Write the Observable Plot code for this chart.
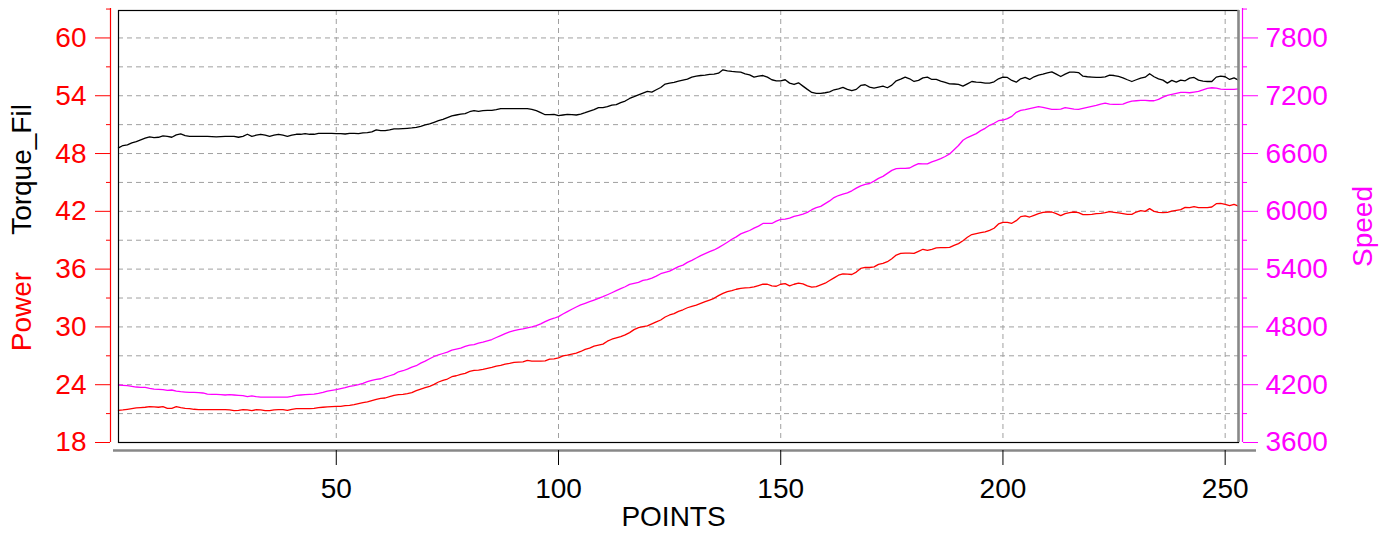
<!DOCTYPE html>
<html>
<head>
<meta charset="utf-8">
<script src="https://cdn.jsdelivr.net/npm/d3@7"></script>
<script src="https://cdn.jsdelivr.net/npm/@observablehq/plot@0.6"></script>
<style>
  html, body { margin: 0; padding: 0; background: #fff; }
  #chart svg { display: block; overflow: visible; }
</style>
</head>
<body>
<div id="chart"></div>
<script>
// ---- data ----
const torque = [
48.59,48.83,48.9,49.1,49.24,49.41,49.59,49.72,49.66,49.69,
49.83,49.79,49.69,49.93,50.03,49.86,49.79,49.79,49.79,49.79,
49.79,49.76,49.72,49.76,49.79,49.79,49.79,49.69,49.79,50.0,
49.79,49.9,50.0,49.9,49.79,49.9,50.0,49.9,49.79,49.9,
50.0,50.0,50.07,50.0,50.0,50.1,50.1,50.1,50.1,50.07,
50.07,50.03,50.1,50.1,50.07,50.14,50.17,50.24,50.45,50.38,
50.38,50.45,50.55,50.57,50.59,50.62,50.66,50.72,50.83,50.97,
51.07,51.24,51.41,51.55,51.72,51.9,52.0,52.1,52.14,52.34,
52.45,52.38,52.45,52.48,52.48,52.55,52.66,52.66,52.66,52.66,
52.66,52.66,52.66,52.59,52.45,52.24,52.03,52.03,52.07,51.93,
52.0,52.07,52.03,52.0,52.1,52.24,52.41,52.55,52.76,52.76,
52.86,53.03,53.07,53.28,53.45,53.72,53.9,54.1,54.28,54.45,
54.38,54.62,54.86,55.21,55.31,55.38,55.52,55.62,55.72,55.93,
56.03,56.1,56.14,56.21,56.24,56.34,56.69,56.59,56.52,56.48,
56.45,56.28,56.17,55.93,56.03,56.1,55.93,55.66,55.55,55.55,
55.66,55.31,55.17,55.34,55.0,54.66,54.34,54.24,54.24,54.31,
54.41,54.62,54.72,54.86,54.66,54.52,54.66,55.07,55.14,54.9,
54.79,54.9,55.0,54.83,55.1,55.55,55.72,55.93,55.76,55.48,
55.59,55.86,55.93,55.69,55.69,55.52,55.38,55.24,55.22,55.17,
55.0,55.24,55.48,55.41,55.38,55.31,55.31,55.45,55.76,55.93,
55.9,55.59,55.41,55.76,55.9,55.69,55.97,56.14,56.24,56.38,
56.48,56.24,56.0,56.24,56.45,56.45,56.41,56.03,55.97,55.93,
55.9,55.9,55.97,56.14,56.1,56.0,55.86,55.66,55.48,55.66,
55.83,55.93,56.28,55.97,55.76,55.62,55.31,55.59,55.41,55.62,
55.55,55.83,55.9,55.62,55.52,55.48,55.48,55.93,56.03,55.97,
55.69,55.86,55.62
];
const power = [
21.34,21.38,21.45,21.52,21.59,21.62,21.66,21.72,21.69,21.66,
21.72,21.55,21.55,21.72,21.62,21.55,21.52,21.45,21.41,21.41,
21.41,21.41,21.41,21.41,21.41,21.38,21.31,21.34,21.41,21.38,
21.31,21.41,21.38,21.31,21.31,21.38,21.41,21.41,21.34,21.45,
21.52,21.52,21.52,21.52,21.55,21.62,21.66,21.69,21.72,21.76,
21.76,21.83,21.86,21.93,22.03,22.14,22.21,22.34,22.48,22.59,
22.62,22.76,22.9,22.97,23.0,23.07,23.17,23.38,23.55,23.69,
23.83,24.03,24.28,24.45,24.59,24.83,24.93,25.07,25.17,25.38,
25.48,25.52,25.59,25.69,25.79,25.93,26.0,26.14,26.21,26.31,
26.34,26.38,26.52,26.45,26.45,26.45,26.48,26.66,26.69,26.79,
27.0,27.07,27.17,27.28,27.45,27.66,27.79,28.0,28.1,28.21,
28.52,28.72,28.86,29.0,29.17,29.41,29.72,29.93,30.03,30.1,
30.31,30.52,30.72,31.03,31.24,31.38,31.62,31.78,31.99,32.13,
32.27,32.45,32.62,32.79,32.97,33.25,33.49,33.67,33.77,33.91,
34.01,34.05,34.08,34.15,34.29,34.43,34.43,34.26,34.22,34.43,
34.5,34.26,34.43,34.54,34.47,34.26,34.12,34.19,34.36,34.54,
34.82,35.09,35.37,35.51,35.48,35.44,35.69,36.07,36.17,36.17,
36.24,36.49,36.59,36.77,37.08,37.46,37.64,37.67,37.67,37.64,
37.85,38.06,37.95,38.06,38.2,38.23,38.23,38.26,38.47,38.65,
38.95,39.31,39.59,39.69,39.79,39.86,40.03,40.24,40.69,40.86,
40.86,40.76,41.03,41.45,41.52,41.41,41.59,41.76,41.9,41.93,
41.93,41.76,41.55,41.76,41.86,41.93,41.86,41.66,41.66,41.69,
41.76,41.79,41.86,41.97,41.9,41.83,41.76,41.69,41.69,41.93,
42.07,42.0,42.28,42.0,41.9,41.86,41.9,42.03,42.1,42.17,
42.41,42.38,42.48,42.38,42.38,42.38,42.45,42.79,42.83,42.72,
42.59,42.72,42.55
];
const speed = [
4197,4193,4190,4183,4176,4172,4172,4162,4155,4152,
4148,4141,4145,4134,4128,4124,4121,4121,4117,4114,
4103,4100,4100,4097,4093,4097,4093,4090,4086,4076,
4083,4076,4072,4072,4072,4072,4072,4072,4072,4079,
4090,4093,4097,4100,4103,4110,4121,4134,4141,4148,
4159,4169,4183,4190,4200,4214,4231,4245,4255,4262,
4279,4293,4307,4334,4345,4362,4383,4397,4424,4445,
4469,4493,4510,4524,4538,4559,4569,4579,4597,4610,
4617,4631,4641,4655,4669,4690,4710,4731,4748,4762,
4772,4779,4790,4800,4814,4831,4855,4876,4890,4907,
4934,4959,4983,5007,5028,5045,5062,5079,5097,5114,
5134,5155,5176,5197,5217,5241,5252,5262,5283,5290,
5307,5328,5352,5366,5379,5403,5426,5442,5470,5491,
5515,5540,5560,5581,5599,5623,5651,5679,5710,5735,
5766,5784,5801,5826,5846,5874,5874,5874,5899,5916,
5920,5930,5948,5958,5972,5989,6017,6038,6052,6080,
6108,6143,6164,6178,6192,6213,6241,6265,6279,6289,
6314,6342,6363,6394,6425,6443,6446,6446,6450,6474,
6495,6492,6492,6513,6530,6548,6569,6596,6640,6683,
6738,6766,6786,6807,6838,6862,6893,6914,6941,6948,
6962,6986,7028,7048,7055,7066,7076,7086,7079,7069,
7059,7059,7062,7076,7069,7062,7059,7069,7079,7090,
7100,7114,7124,7114,7110,7110,7114,7131,7145,7148,
7152,7152,7148,7148,7162,7186,7203,7214,7224,7234,
7234,7231,7238,7245,7262,7276,7283,7279,7269,7266,
7266,7266,7272
];
const leftTicks = [18, 24, 30, 36, 42, 48, 54, 60];
const leftMinor = [21, 27, 33, 39, 45, 51, 57, 63];
const rightTicks = [3600, 4200, 4800, 5400, 6000, 6600, 7200, 7800];
const rightMinor = [3900, 4500, 5100, 5700, 6300, 6900, 7500, 8100];
const xTicks = [50, 100, 150, 200, 250];
const gridLevels = [21, 24, 27, 30, 33, 36, 39, 42, 45, 48, 51, 54, 57, 60];

// ---- build table ----
const table = power.map((p, i) => ({ pt: i + 1, power: p, torque: torque[i], speed: speed[i] }));
// speed axis is linked to the left axis: 3600 -> 18, 7800 -> 60
const speedToLeft = s => 18 + (s - 3600) / 100;

const FONT = "'Liberation Sans', Arial, Helvetica, sans-serif";
const RED = "#ff0000", MAG = "#ff00ff", GRID = "#a0a0a0";

const chart = Plot.plot({
  width: 1386,
  height: 534,
  marginLeft: 118,
  marginRight: 148,
  marginTop: 10,
  marginBottom: 92,
  style: { fontFamily: FONT, fontSize: "28px", background: "#fff", overflow: "visible" },
  x: { domain: [1, 253], axis: null },
  y: { domain: [18, 62.85], axis: null },
  marks: [
    // grid
    Plot.ruleY(gridLevels, { stroke: GRID, strokeWidth: 1, strokeDasharray: "5,4" }),
    Plot.ruleX(xTicks, { stroke: GRID, strokeWidth: 1, strokeDasharray: "5,4" }),
    // data lines
    Plot.line(table, { x: "pt", y: "torque", stroke: "#000", strokeWidth: 1.3 }),
    Plot.line(table, { x: "pt", y: d => speedToLeft(d.speed), stroke: MAG, strokeWidth: 1.3 }),
    Plot.line(table, { x: "pt", y: "power", stroke: RED, strokeWidth: 1.3 }),
    // plot frame
    Plot.frame({ stroke: "#000", strokeWidth: 1.2 }),
    Plot.ruleX([253], { stroke: "#888", strokeWidth: 2.5 }),
    // left (Power / Torque) axis
    Plot.ruleX([1], { stroke: RED, strokeWidth: 1.2, dx: -8, insetTop: -2 }),
    Plot.axisY(leftTicks, { anchor: "left", color: RED, tickSize: 15, tickPadding: 9, dx: -8, label: null, fontSize: 28 }),
    Plot.axisY(leftMinor, { anchor: "left", color: RED, tickSize: 4, dx: -8, label: null, tickFormat: () => "" }),
    // right (Speed) axis
    Plot.ruleX([253], { stroke: MAG, strokeWidth: 1.2, dx: 4, insetTop: -2 }),
    Plot.axisY(rightTicks.map(speedToLeft), { anchor: "right", color: MAG, tickSize: 15, tickPadding: 8, dx: 4, label: null, fontSize: 28,
      tickFormat: v => String(Math.round(3600 + (v - 18) * 100)) }),
    Plot.axisY(rightMinor.map(speedToLeft), { anchor: "right", color: MAG, tickSize: 4, dx: 4, label: null, tickFormat: () => "" }),
    // bottom axis
    Plot.ruleY([18], { stroke: "#888", strokeWidth: 2.5, dy: 8, insetLeft: -5, insetRight: -18 }),
    Plot.axisX(xTicks, { anchor: "bottom", color: "#000", tickSize: 15, tickPadding: 13, dy: 8, label: null, fontSize: 28 }),
    // axis titles
    Plot.text(["POINTS"], { frameAnchor: "bottom", dx: -5, dy: 75, fill: "#000", fontSize: 28, lineAnchor: "middle", textAnchor: "middle" }),
    Plot.text(["Speed"], { frameAnchor: "right", dx: 125, dy: 0, rotate: -90, fill: MAG, fontSize: 28, textAnchor: "middle" }),
    Plot.text(["Torque_Fil"], { frameAnchor: "left", dx: -96, dy: -57, rotate: -90, fill: "#000", fontSize: 28, textAnchor: "middle" }),
    Plot.text(["Power"], { frameAnchor: "left", dx: -96, dy: 85, rotate: -90, fill: RED, fontSize: 28, textAnchor: "middle" })
  ]
});
document.getElementById("chart").appendChild(chart);
</script>
</body>
</html>
